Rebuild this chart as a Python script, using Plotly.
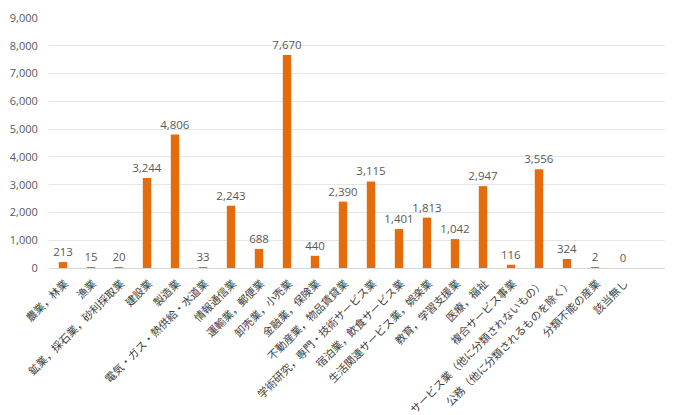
import plotly.graph_objects as go

categories = [
    "農業，林業", "漁業", "鉱業，採石業，砂利採取業", "建設業", "製造業",
    "電気・ガス・熱供給・水道業", "情報通信業", "運輸業，郵便業", "卸売業，小売業",
    "金融業，保険業", "不動産業，物品賃貸業", "学術研究，専門・技術サービス業",
    "宿泊業，飲食サービス業", "生活関連サービス業，娯楽業", "教育，学習支援業",
    "医療，福祉", "複合サービス事業", "サービス業（他に分類されないもの）",
    "公務（他に分類されるものを除く）", "分類不能の産業", "該当無し",
]
values = [213, 15, 20, 3244, 4806, 33, 2243, 688, 7670, 440, 2390, 3115,
          1401, 1813, 1042, 2947, 116, 3556, 324, 2, 0]
y_ticks = [0, 1000, 2000, 3000, 4000, 5000, 6000, 7000, 8000, 9000]

fig = go.Figure(go.Bar(
    x=categories, y=values,
    marker=dict(color="#E46C0A", line=dict(width=0)),
    text=[f"{v:,}" for v in values], textposition="outside",
    constraintext="none", textangle=0,
    textfont=dict(size=11.5, color="#595959", family="Open Sans, Noto Sans CJK JP"),
    cliponaxis=False, width=0.3,
))
fig.update_layout(
    width=680, height=407,
    margin=dict(l=41, r=23, t=10, b=147),
    plot_bgcolor="white", paper_bgcolor="white",
    showlegend=False,
    font=dict(family="Noto Sans CJK JP", color="#595959"),
    xaxis=dict(tickangle=-45, tickfont=dict(size=10.8, color="#404040", family="Noto Sans CJK JP"),
               range=[-0.5, len(categories) + 0.5], ticklabelstandoff=4, ticklabelshift=2,
               showgrid=False, showline=True, linecolor="#D9D9D9", ticks="", automargin=False),
    yaxis=dict(range=[0, 9000], tickvals=y_ticks, tickformat=",",
               showgrid=True, gridcolor="#E6E6E6", zeroline=False, automargin=False,
               tickfont=dict(size=11, color="#595959", family="Open Sans"),
               showline=False, ticks="outside", ticklen=8, tickcolor="rgba(0,0,0,0)"),
)
fig.write_html("out.html")
